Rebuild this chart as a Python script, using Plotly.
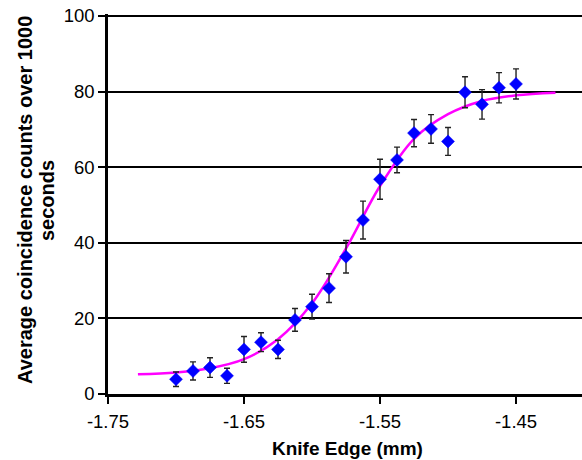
import plotly.graph_objects as go

# Measured data
knife_edge = [-1.7, -1.6875, -1.675, -1.6625, -1.65, -1.6375, -1.625, -1.6125,
              -1.6, -1.5875, -1.575, -1.5625, -1.55, -1.5375, -1.525, -1.5125,
              -1.5, -1.4875, -1.475, -1.4625, -1.45]
counts = [3.9, 6.1, 7.0, 4.8, 11.8, 13.7, 11.8, 19.6,
          23.1, 28.0, 36.3, 46.0, 56.8, 61.9, 69.0, 70.1,
          66.8, 79.8, 76.6, 81.0, 82.0]
errors = [1.9, 2.4, 2.6, 2.0, 3.4, 2.5, 2.4, 3.0,
          3.3, 3.8, 4.3, 5.0, 5.3, 3.4, 3.6, 3.8,
          3.7, 4.1, 3.9, 4.0, 4.0]

# Fitted curve
fit_x = [-1.728, -1.70, -1.675, -1.65, -1.625, -1.60, -1.575, -1.55,
         -1.525, -1.50, -1.475, -1.45, -1.421]
fit_y = [5.2, 5.7, 6.8, 9.2, 14.5, 24.0, 38.5, 55.0,
         67.5, 74.0, 77.5, 79.0, 79.7]

x_ticks = [-1.75, -1.65, -1.55, -1.45]
x_tick_labels = ["-1.75", "-1.65", "-1.55", "-1.45"]
y_ticks = [0, 20, 40, 60, 80, 100]

FONT = "Liberation Sans, Arial, sans-serif"

W, H = 582, 460
L, T, B = 108, 14, 66
PW = W - L
PH = H - T - B

def px_x(sx):
    return (sx - L) / PW

def px_y(sy):
    return (T + PH - sy) / PH

fig = go.Figure()
fig.add_trace(go.Scatter(
    x=fit_x, y=fit_y, mode="lines",
    line=dict(color="#FF00FF", width=2.5, shape="spline", smoothing=1.0),
    hoverinfo="skip", showlegend=False,
))
fig.add_trace(go.Scatter(
    x=knife_edge, y=counts, mode="markers",
    marker=dict(symbol="diamond", size=10, color="#0000FF",
                line=dict(width=0.5, color="#0000FF")),
    error_y=dict(type="data", array=errors, visible=True,
                 color="#222222", thickness=1.4, width=3),
    showlegend=False,
))

fig.update_layout(
    width=W, height=H,
    margin=dict(l=L, r=0, t=T, b=B, autoexpand=False),
    paper_bgcolor="white", plot_bgcolor="white",
    font=dict(family=FONT, size=18, color="black"),
    xaxis=dict(
        range=[-1.75, -1.4015],
        tickvals=x_ticks, ticktext=x_tick_labels,
        showgrid=False, zeroline=False,
        showline=True, linecolor="black", linewidth=2.5,
        ticks="outside", ticklen=7, tickwidth=2, tickcolor="black",
        tickfont=dict(size=18.5), ticklabelstandoff=2,
        automargin=False, ticklabeloverflow="allow",
    ),
    yaxis=dict(
        range=[0, 100.5],
        tickvals=y_ticks,
        showgrid=True, gridcolor="black", gridwidth=2,
        zeroline=False,
        showline=True, linecolor="black", linewidth=2.5,
        ticks="outside", ticklen=7, tickwidth=2, tickcolor="black",
        tickfont=dict(size=18.5),
        automargin=False, ticklabeloverflow="allow",
    ),
    annotations=[
        dict(text="Knife Edge (mm)", xref="paper", yref="paper",
             x=px_x(347), y=px_y(448),
             xanchor="center", yanchor="middle", showarrow=False,
             font=dict(family=FONT, size=19, weight="bold")),
        dict(text="Average coincidence counts over 1000",
             xref="paper", yref="paper",
             x=px_x(25), y=px_y(200),
             xanchor="center", yanchor="middle", showarrow=False,
             textangle=-90,
             font=dict(family=FONT, size=20, weight="bold")),
        dict(text="seconds",
             xref="paper", yref="paper",
             x=px_x(47), y=px_y(200),
             xanchor="center", yanchor="middle", showarrow=False,
             textangle=-90,
             font=dict(family=FONT, size=20, weight="bold")),
    ],
)

fig.write_html("out.html",
               config={"displayModeBar": False},
               post_script="document.body.style.margin='0px';")
